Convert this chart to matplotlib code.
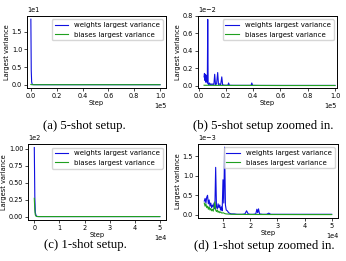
import numpy as np
import matplotlib
matplotlib.use('Agg')
import matplotlib.pyplot as plt

# 5-shot: first steps (actual values)
w5_head_steps = [0, 300, 600, 1000, 1500, 2000, 3000]
w5_head = [18.6, 4.0, 0.8, 0.15, 0.03, 0.008, 0.002]
b5_head = [0.05, 0.02, 0.01, 0.005, 0.002, 0.001, 0.0005]

# 5-shot zoomed in (values in units of 1e-2)
w5_steps = [4000, 4300, 4600, 4900, 5200, 5500, 5800, 6100, 6400, 6700, 7000, 7500,
            8000, 8600, 9200, 9800, 10500, 11200, 11800, 12400, 13200, 14000, 14600,
            15400, 16200, 17000, 17600, 18500, 20000, 21500, 22000, 22600, 25000,
            30000, 35000, 38500, 39000, 39600, 45000, 60000, 80000, 100000]
w5_vals = [0.10, 0.14, 0.06, 0.13, 0.04, 0.12, 0.05, 0.10, 0.03, 0.76, 0.02, 0.01,
           0.03, 0.01, 0.02, 0.01, 0.02, 0.01, 0.13, 0.01, 0.02, 0.15, 0.01,
           0.02, 0.01, 0.10, 0.01, 0.005, 0.004, 0.005, 0.03, 0.004, 0.003,
           0.003, 0.003, 0.003, 0.03, 0.003, 0.002, 0.002, 0.002, 0.002]
b5_steps = [4000, 10000, 20000, 40000, 60000, 80000, 100000]
b5_vals = [0.004, 0.003, 0.002, 0.002, 0.001, 0.001, 0.001]

# 1-shot: first steps (actual values)
w1_head_steps = [0, 200, 400, 700, 1000, 1500, 2000, 2500]
w1_head = [102, 30, 6, 1.5, 0.3, 0.05, 0.01, 0.002]
b1_head = [27, 10, 2.5, 0.6, 0.12, 0.02, 0.004, 0.001]

# 1-shot zoomed in (values in units of 1e-3)
w1_steps = [3000, 3300, 3600, 3900, 4200, 4500, 4800, 5100, 5400, 5700, 6000, 6300,
            6600, 6900, 7200, 7500, 7800, 8100, 8400, 8700, 9000, 9300, 9600, 9900,
            10200, 10500, 10800, 11100, 11500, 12000, 12500, 13000, 14000, 15000,
            16000, 17000, 18000, 18600, 19200, 20000, 21000, 22000, 22400, 22700,
            23000, 23400, 24500, 26000, 26800, 27500, 30000, 35000, 40000, 45000, 50000]
w1_vals = [0.35, 0.42, 0.30, 0.45, 0.50, 0.28, 0.38, 0.22, 0.30, 0.18, 0.25, 0.20,
           0.30, 0.15, 1.22, 0.20, 0.15, 0.28, 0.18, 0.25, 0.12, 0.20, 0.10, 0.90,
           0.30, 1.74, 0.25, 0.12, 0.10, 0.05, 0.03, 0.02, 0.02, 0.01,
           0.01, 0.01, 0.02, 0.10, 0.02, 0.01, 0.01, 0.02, 0.14, 0.05,
           0.15, 0.02, 0.01, 0.01, 0.04, 0.01, 0.01, 0.01, 0.01, 0.01, 0.01]
b1_steps = [3000, 3300, 3600, 3900, 4200, 4500, 4800, 5100, 5400, 5700, 6000, 6300,
            6600, 6900, 7200, 7500, 7800, 8100, 8400, 8700, 9000, 9500, 10000, 10500,
            11000, 12000, 13000, 15000, 20000, 30000, 40000, 50000]
b1_vals = [0.30, 0.22, 0.28, 0.18, 0.22, 0.14, 0.20, 0.12, 0.16, 0.10, 0.14, 0.09,
           0.20, 0.33, 0.12, 0.08, 0.12, 0.06, 0.09, 0.05, 0.07, 0.04, 0.05, 0.03,
           0.02, 0.015, 0.01, 0.008, 0.005, 0.004, 0.003, 0.003]

captions = ['(a) 5-shot setup.', '(b) 5-shot setup zoomed in.',
            '(c) 1-shot setup.', '(d) 1-shot setup zoomed in.']

w5z = np.array(w5_vals) * 1e-2
b5z = np.array(b5_vals) * 1e-2
w1z = np.array(w1_vals) * 1e-3
b1z = np.array(b1_vals) * 1e-3

panels = [
    (w5_head_steps + w5_steps, np.concatenate([w5_head, w5z]),
     w5_head_steps + b5_steps, np.concatenate([b5_head, b5z])),
    (w5_steps, w5z, b5_steps, b5z),
    (w1_head_steps + w1_steps, np.concatenate([w1_head, w1z]),
     w1_head_steps + b1_steps, np.concatenate([b1_head, b1z])),
    (w1_steps, w1z, b1_steps, b1z),
]

# exponent shown on (x, y) axis of each panel
exponents = [(5, 1), (5, -2), (4, 2), (4, -3)]

rects = [
    [0.078, 0.663, 0.402, 0.276],
    [0.572, 0.663, 0.402, 0.276],
    [0.081, 0.157, 0.399, 0.291],
    [0.572, 0.165, 0.405, 0.284],
]

fig = plt.figure(figsize=(3.46, 2.61), dpi=100)

axes = []
for rect, (wx, wy, bx, by), (ex, ey) in zip(rects, panels, exponents):
    ax = fig.add_axes(rect)
    ax.plot(wx, wy, color='#1010e0', lw=0.8, label='weights largest variance')
    ax.plot(bx, by, color='#20a020', lw=0.8, label='biases largest variance')
    ax.ticklabel_format(style='sci', axis='x', scilimits=(ex, ex))
    ax.ticklabel_format(style='sci', axis='y', scilimits=(ey, ey))
    ax.tick_params(labelsize=4.7, length=2, width=0.5, pad=1.5)
    ax.xaxis.get_offset_text().set_fontsize(4.7)
    ax.yaxis.get_offset_text().set_fontsize(4.7)
    ax.set_xlabel('Step', fontsize=4.8, labelpad=1)
    ax.set_ylabel('Largest variance', fontsize=4.8, labelpad=1.5)
    ax.legend(loc='upper right', fontsize=5.0)
    for s in ax.spines.values():
        s.set_linewidth(0.7)
    axes.append(ax)

axes[0].set_xlim(-3000, 104700)
axes[1].set_xlim(-500, 101500)
axes[1].set_ylim(-0.00027, 0.008)

cap_pos = [(0.244, 0.517), (0.760, 0.517), (0.246, 0.061), (0.764, 0.057)]
for (x, y), text in zip(cap_pos, captions):
    fig.text(x, y, text, ha='center', va='center', fontsize=9.2,
             family='Liberation Serif')

fig.savefig('out.png', dpi=100)
